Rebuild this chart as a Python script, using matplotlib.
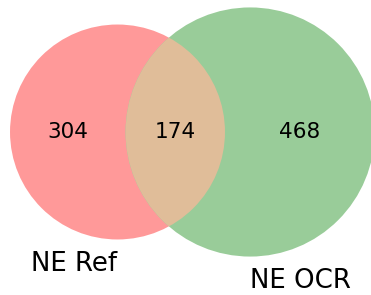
import numpy as np
import matplotlib
matplotlib.use("Agg")
import matplotlib.pyplot as plt
from matplotlib.patches import Circle

# Data
set_labels = ["NE Ref", "NE OCR"]
only_a = 304
both = 174
only_b = 468

total = only_a + both + only_b
area_a = (only_a + both) / total
area_b = (only_b + both) / total
area_ab = both / total
r_a = np.sqrt(area_a / np.pi)
r_b = np.sqrt(area_b / np.pi)


def overlap(d, r1, r2):
    a1 = np.clip((d * d + r1 * r1 - r2 * r2) / (2 * d * r1), -1, 1)
    a2 = np.clip((d * d + r2 * r2 - r1 * r1) / (2 * d * r2), -1, 1)
    k = (-d + r1 + r2) * (d + r1 - r2) * (d - r1 + r2) * (d + r1 + r2)
    return r1 * r1 * np.arccos(a1) + r2 * r2 * np.arccos(a2) - 0.5 * np.sqrt(max(k, 0))


lo, hi = abs(r_a - r_b) + 1e-9, r_a + r_b
for _ in range(100):
    mid = (lo + hi) / 2
    if overlap(mid, r_a, r_b) > area_ab:
        lo = mid
    else:
        hi = mid
d = (lo + hi) / 2

c_a = (0.0, 0.0)
c_b = (d, 0.0)

fig = plt.figure(figsize=(371 / 150, 295 / 150), dpi=150)
ax = fig.add_axes([0, 0, 1, 1])
ax.set_axis_off()

col_a = "#ff9999"
col_b = "#99cc99"
col_ab = "#e0bd99"

ca = Circle(c_a, r_a, facecolor=col_a, edgecolor="none")
cb = Circle(c_b, r_b, facecolor=col_b, edgecolor="none")
ax.add_patch(ca)
ax.add_patch(cb)
lens = Circle(c_a, r_a, facecolor=col_ab, edgecolor="none")
ax.add_patch(lens)
clipper = Circle(c_b, r_b, transform=ax.transData, facecolor="none", edgecolor="none")
lens.set_clip_path(clipper)

# subset labels
lens_left = d - r_b
lens_right = r_a
ax.text((-r_a + lens_left) / 2, 0, str(only_a), ha="center", va="center", fontsize=10.4)
ax.text((lens_left + lens_right) / 2, 0, str(both), ha="center", va="center", fontsize=10.4)
ax.text((lens_right + d + r_b) / 2, 0, str(only_b), ha="center", va="center", fontsize=10.4)

pad = np.mean([0.1 * r_a, 0.1 * r_b])
ax.text(c_a[0], -r_a - pad, set_labels[0], ha="right", va="top", fontsize=12.5)
ax.text(c_b[0], -r_b - pad, set_labels[1], ha="left", va="top", fontsize=12.5)

scale = 268.0
ax.set_xlim(-117.5 / scale, (371 - 117.5) / scale)
ax.set_ylim(-(295 - 132) / scale, 132 / scale)
ax.set_aspect("equal")

fig.savefig("out.png", dpi=150)
